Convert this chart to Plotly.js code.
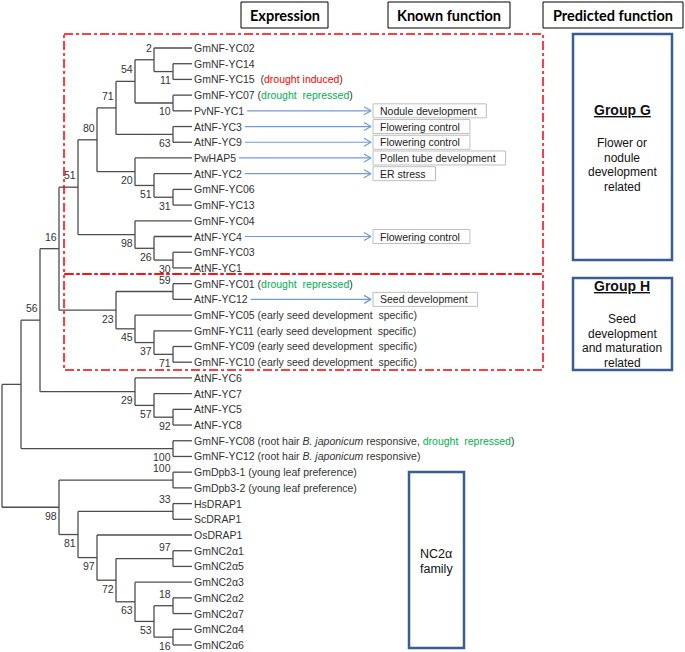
<!DOCTYPE html>
<html><head><meta charset="utf-8">
<script src="https://cdn.plot.ly/plotly-3.0.1.min.js"></script>
<style>html,body{margin:0;padding:0;background:#fff;overflow:hidden}</style>
</head><body><div id="chart" style="width:685px;height:652px"></div>
<script>
// ---------------- DATA ----------------
const leafNames = ['GmNF-YC02','GmNF-YC14','GmNF-YC15','GmNF-YC07','PvNF-YC1','AtNF-YC3','AtNF-YC9','PwHAP5','AtNF-YC2','GmNF-YC06','GmNF-YC13','GmNF-YC04','AtNF-YC4','GmNF-YC03','AtNF-YC1','GmNF-YC01','AtNF-YC12','GmNF-YC05','GmNF-YC11','GmNF-YC09','GmNF-YC10','AtNF-YC6','AtNF-YC7','AtNF-YC5','AtNF-YC8','GmNF-YC08','GmNF-YC12','GmDpb3-1','GmDpb3-2','HsDRAP1','ScDRAP1','OsDRAP1','GmNC2α1','GmNC2α5','GmNC2α3','GmNC2α2','GmNC2α7','GmNC2α4','GmNC2α6'];
const RED = "<span style='color:#ff0000'>", GREEN = "<span style='color:#00b050'>";
const leafNotes = ['','', '&nbsp;&nbsp;('+RED+'drought induced</span>)', '&nbsp;('+GREEN+'drought&nbsp;&nbsp;repressed</span>)',
 '','','','','','','','','','','', '&nbsp;('+GREEN+'drought&nbsp;&nbsp;repressed</span>)', '',
 ' (early seed development&nbsp;&nbsp;specific)',' (early seed development&nbsp;&nbsp;specific)',' (early seed development&nbsp;&nbsp;specific)',' (early seed development&nbsp;&nbsp;specific)',
 '','','','',
 ' (root hair <i>B. japonicum</i> responsive, '+GREEN+'drought&nbsp;&nbsp;repressed</span>)',
 ' (root hair <i>B. japonicum</i> responsive)',
 ' (young leaf preference)',' (young leaf preference)',
 '','','','','','','','','',''];
// topology with bootstrap values (Newick)
const nwkG = "((((GmNF-YC02,(GmNF-YC14,GmNF-YC15)11)2,(GmNF-YC07,PvNF-YC1)10)54,(AtNF-YC3,AtNF-YC9)63)71,(PwHAP5,(AtNF-YC2,(GmNF-YC06,GmNF-YC13)31)51)20)80";
const nwkG2 = "(GmNF-YC04,(AtNF-YC4,(GmNF-YC03,AtNF-YC1)30)26)98";
const nwkH = "((GmNF-YC01,AtNF-YC12)59,(GmNF-YC05,(GmNF-YC11,(GmNF-YC09,GmNF-YC10)71)37)45)23";
const nwkAt = "(AtNF-YC6,(AtNF-YC7,(AtNF-YC5,AtNF-YC8)92)57)29";
const nwkRoot = "(GmNF-YC08,GmNF-YC12)100";
const nwkNC = "((GmDpb3-1,GmDpb3-2)100,((HsDRAP1,ScDRAP1)33,(OsDRAP1,((GmNC2α1,GmNC2α5)97,(GmNC2α3,((GmNC2α2,GmNC2α7)18,(GmNC2α4,GmNC2α6)16)53)63)72)97)81)98";
const treeNewick = "(((((" + nwkG + "," + nwkG2 + ")51," + nwkH + ")16," + nwkAt + ")56," + nwkRoot + ")," + nwkNC + ");";

const funcLeaves = ['PvNF-YC1','AtNF-YC3','AtNF-YC9','PwHAP5','AtNF-YC2','AtNF-YC4','AtNF-YC12'];
const funcTexts = ['Nodule development','Flowering control','Flowering control','Pollen tube development','ER stress','Flowering control','Seed development'];
const headerTexts = ['Expression','Known function','Predicted function'];
const groupGTitle = 'Group G', groupGLines = ['Flower or','nodule','development','related'];
const groupHTitle = 'Group H', groupHLines = ['Seed','development','and maturation','related'];
const nc2Lines = ['NC2α','family'];

// ---------------- GEOMETRY ----------------
const W = 685, H = 652;
const PX_X0 = 2, PX_PER_LEVEL = 19, PX_Y0 = 48, PX_PER_LEAF = 15.71;
const X = px => (px - PX_X0) / PX_PER_LEVEL;
const Y = py => (py - PX_Y0) / PX_PER_LEAF;
const FONT = 'Liberation Sans, Arial, sans-serif';
const TXT = '#333333';

// parse Newick
function parseNewick(s){
  let i = 0;
  function node(){
    const n = {children:[], label:''};
    if (s[i] === '('){
      i++; n.children.push(node());
      while (s[i] === ','){ i++; n.children.push(node()); }
      i++;
    }
    let lab = '';
    while (i < s.length && !',();'.includes(s[i])) lab += s[i++];
    n.label = lab; return n;
  }
  return node();
}
const root = parseNewick(treeNewick);
let leafCounter = 0;
function height(n){ n.h = n.children.length ? 1 + Math.max(...n.children.map(height)) : 0; return n.h; }
height(root);
const TOTAL = root.h;
function place(n, parent, first){
  n.parent = parent; n.first = first;
  n.x = TOTAL - n.h;
  if (!n.children.length){ n.y = leafNames.indexOf(n.label); leafCounter++; }
  else {
    n.children.forEach((c,k)=>place(c, n, k===0));
    n.y = (n.children[0].y + n.children[n.children.length-1].y)/2;
  }
}
place(root, null, true);

const bx = [], by = [];
const annotations = [], shapes = [];
function walk(n){
  if (!n.children.length) return;
  const c0 = n.children[0], c1 = n.children[n.children.length-1];
  bx.push(n.x, n.x, null); by.push(c0.y, c1.y, null);
  n.children.forEach(c => { bx.push(n.x, c.x, null); by.push(c.y, c.y, null); walk(c); });
  if (n.label && n.parent){
    annotations.push({x:n.x, y:n.y, xref:'x', yref:'y', text:n.label, showarrow:false,
      xanchor:'right', yanchor:'middle', yshift: n.first ? 12 : -8.5,
      font:{family:FONT, size:10.5, color:TXT}});
  }
  n.children.forEach(walk);
}
// walk visits children twice if nested incorrectly; use separate traversal
(function traverse(n){
  if (!n.children.length) return;
  const c0 = n.children[0], c1 = n.children[n.children.length-1];
  bx.push(n.x, n.x, null); by.push(c0.y, c1.y, null);
  n.children.forEach(c => { bx.push(n.x, c.x, null); by.push(c.y, c.y, null); });
  if (n.label && n.parent){
    annotations.push({x:n.x, y:n.y, xref:'x', yref:'y', text:n.label, showarrow:false,
      xanchor:'right', yanchor:'middle', yshift: n.first ? 12 : -8.5,
      font:{family:FONT, size:10.5, color:TXT}});
  }
  n.children.forEach(traverse);
})(root);

// leaf labels
leafNames.forEach((name, i) => {
  annotations.push({x:TOTAL, y:i, xref:'x', yref:'y', text:name + leafNotes[i], showarrow:false,
    xanchor:'left', yanchor:'middle', font:{family:FONT, size:10.5, color:TXT}});
});

// text measurement
const cv = document.createElement('canvas').getContext('2d');
cv.font = "10.5px 'Liberation Sans'";
const LABEL_START = PX_X0 + TOTAL*PX_PER_LEVEL + 2;

// arrows + function boxes
const ax = [], ay = [], hx = [], hy = [];
const ARROW_TIP = 371, BOX_X = 373, HALF_BOX = 7;
funcLeaves.forEach((leaf, k) => {
  const i = leafNames.indexOf(leaf);
  const start = LABEL_START + cv.measureText(leaf).width + 3;
  ax.push(X(start), X(ARROW_TIP), null); ay.push(i, i, null);
  hx.push(X(ARROW_TIP-7), X(ARROW_TIP), X(ARROW_TIP-7), null);
  hy.push(i - 4/PX_PER_LEAF, i, i + 4/PX_PER_LEAF, null);
  const tw = cv.measureText(funcTexts[k]).width;
  shapes.push({type:'rect', xref:'x', yref:'y', x0:X(BOX_X), x1:X(BOX_X + tw + 17),
    y0:i - HALF_BOX/PX_PER_LEAF, y1:i + HALF_BOX/PX_PER_LEAF, line:{color:'#bfbfbf', width:1}, fillcolor:'rgba(0,0,0,0)'});
  annotations.push({x:X(BOX_X + 7), y:i, xref:'x', yref:'y', text:funcTexts[k], showarrow:false,
    xanchor:'left', yanchor:'middle', xshift:-2, font:{family:FONT, size:10.5, color:'#222'}});
});

// headers
const headerBoxes = [[241,328],[388,510],[543,683]];
headerTexts.forEach((t,k) => {
  const [a,b] = headerBoxes[k];
  shapes.push({type:'rect', xref:'x', yref:'y', x0:X(a), x1:X(b), y0:Y(2), y1:Y(28), line:{color:'#000', width:1}});
  annotations.push({x:X((a+b)/2), y:Y(15), xref:'x', yref:'y', text:'<b>'+t+'</b>', showarrow:false,
    xanchor:'center', yanchor:'middle', font:{family:'Lato, Open Sans, sans-serif', size:14.5, color:'#000'}});
});

// red dash-dot clade boxes
shapes.push({type:'rect', xref:'x', yref:'y', x0:X(64), x1:X(543), y0:Y(34), y1:Y(274), line:{color:'#ff0000', width:1.5, dash:'dashdot'}});
shapes.push({type:'rect', xref:'x', yref:'y', x0:X(64), x1:X(543), y0:Y(274), y1:Y(370), line:{color:'#ff0000', width:1.5, dash:'dashdot'}});

// blue predicted-function boxes
const BLUE = '#3b5e92';
shapes.push({type:'rect', xref:'x', yref:'y', x0:X(573), x1:X(672), y0:Y(34), y1:Y(260), line:{color:BLUE, width:2.5}});
shapes.push({type:'rect', xref:'x', yref:'y', x0:X(573), x1:X(672), y0:Y(278), y1:Y(370), line:{color:BLUE, width:2.5}});
shapes.push({type:'rect', xref:'x', yref:'y', x0:X(409), x1:X(464), y0:Y(472), y1:Y(648), line:{color:BLUE, width:2.5}});

function textAt(px, py, t, size, extra){
  annotations.push(Object.assign({x:X(px), y:Y(py), xref:'x', yref:'y', text:t, showarrow:false,
    xanchor:'center', yanchor:'middle', font:{family:FONT, size:size, color:'#111'}}, extra||{}));
}
textAt(622, 110, '<b>'+groupGTitle+'</b>', 14, {font:{family:FONT, size:14, color:'#111', lineposition:'under'}});
groupGLines.forEach((t,k)=>textAt(622, 143 + k*14.5, t, 12));
textAt(622, 286, '<b>'+groupHTitle+'</b>', 14, {font:{family:FONT, size:14, color:'#111', lineposition:'under'}});
groupHLines.forEach((t,k)=>textAt(622, 319 + k*14.6, t, 12));
nc2Lines.forEach((t,k)=>textAt(436, 554 + k*14.5, t, 12.5));

const traces = [
  {type:'scatter', mode:'lines', x:bx, y:by, line:{color:'#4d4d4d', width:1.3}, hoverinfo:'skip'},
  {type:'scatter', mode:'lines', x:ax, y:ay, line:{color:'#6f9bd6', width:1.2}, hoverinfo:'skip'},
  {type:'scatter', mode:'lines', x:hx, y:hy, line:{color:'#6f9bd6', width:1.2}, hoverinfo:'skip'}
];

const layout = {
  width:W, height:H, margin:{l:0,r:0,t:0,b:0,pad:0}, showlegend:false,
  paper_bgcolor:'#fff', plot_bgcolor:'#fff',
  xaxis:{range:[X(0), X(W)], visible:false, fixedrange:true},
  yaxis:{range:[Y(H), Y(0)], visible:false, fixedrange:true},
  shapes:shapes, annotations:annotations
};
Plotly.newPlot('chart', traces, layout, {staticPlot:true, displayModeBar:false});
</script></body></html>
